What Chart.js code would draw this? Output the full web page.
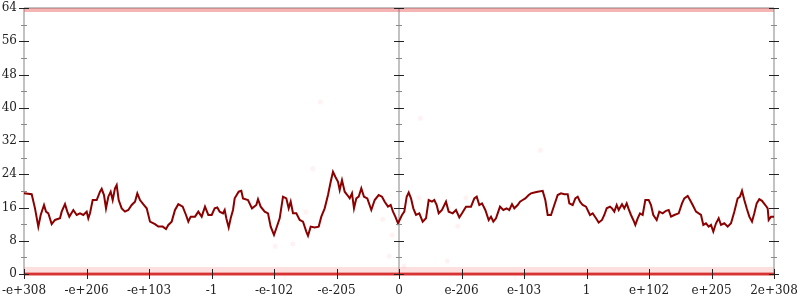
<!DOCTYPE html>
<html>
<head>
<meta charset="utf-8">
<script src="https://cdn.jsdelivr.net/npm/chart.js@4"></script>
<style>
  html, body { margin: 0; padding: 0; background: #fff; }
  #wrap { width: 800px; height: 300px; }
</style>
</head>
<body>
<div id="wrap"><canvas id="chart"></canvas></div>
<script>
// Rótulos do eixo x (posições 0..12)
const xLabels = ['-e+308', '-e+206', '-e+103', '-1', '-e-102', '-e-205', '0',
  'e-206', 'e-103', '1', 'e+102', 'e+205', '2e+308'];
const yMax = 64;
const yStep = 8;
const axisPositions = [0, 6, 12];

// Série principal (linha vermelho-escura)
const lineX = [
  0, 0.123, 0.176, 0.229, 0.267, 0.32, 0.352, 0.389, 0.443, 0.496, 0.576, 0.603, 0.656, 0.693, 0.725,
  0.789, 0.843, 0.896, 0.949, 1.003, 1.029, 1.056, 1.099, 1.163, 1.216, 1.243, 1.28, 1.312, 1.349,
  1.387, 1.419, 1.456, 1.483, 1.515, 1.563, 1.616, 1.669, 1.723, 1.776, 1.813, 1.856, 1.92, 1.963,
  2.016, 2.096, 2.149, 2.219, 2.272, 2.309, 2.363, 2.416, 2.469, 2.539, 2.592, 2.629, 2.667, 2.736,
  2.789, 2.843, 2.896, 2.949, 3.003,
  3.051, 3.093, 3.131, 3.184, 3.211, 3.237, 3.275, 3.307, 3.344, 3.371, 3.435, 3.477, 3.504, 3.584,
  3.648, 3.717, 3.744, 3.787, 3.851, 3.904, 3.947, 4.0, 4.037, 4.091, 4.144, 4.197, 4.235, 4.267,
  4.304, 4.357, 4.411, 4.464, 4.517, 4.544, 4.587, 4.651, 4.715, 4.757, 4.811, 4.864, 4.907, 4.944,
  4.981, 5.024, 5.051, 5.088, 5.131, 5.173, 5.211, 5.248, 5.28, 5.317, 5.355, 5.397, 5.44, 5.493,
  5.557, 5.611, 5.675, 5.728, 5.771, 5.824, 5.867, 5.904, 5.941, 5.984,
  6.048, 6.085, 6.123, 6.155, 6.192, 6.229, 6.272, 6.325, 6.379, 6.432, 6.475, 6.528, 6.565, 6.603,
  6.635, 6.688, 6.752, 6.795, 6.859, 6.912, 6.965, 7.008, 7.072, 7.152, 7.205, 7.243, 7.285, 7.328,
  7.381, 7.435, 7.472, 7.509, 7.552, 7.616, 7.669, 7.723, 7.765, 7.808, 7.845, 7.899, 7.936, 7.979,
  8.021, 8.075, 8.112, 8.165, 8.219, 8.299, 8.341, 8.379, 8.432, 8.485, 8.539, 8.592, 8.645, 8.699,
  8.725, 8.779, 8.821, 8.859, 8.896, 8.939, 8.992,
  9.056, 9.099, 9.152, 9.195, 9.248, 9.285, 9.323, 9.376, 9.408, 9.445, 9.483, 9.515, 9.568, 9.605,
  9.643, 9.675, 9.712, 9.749, 9.781, 9.819, 9.856, 9.899, 9.941, 9.995, 10.032, 10.069, 10.123,
  10.165, 10.219, 10.272, 10.315, 10.352, 10.405, 10.475, 10.528, 10.565, 10.619, 10.656, 10.699,
  10.752, 10.832, 10.869, 10.912, 10.955, 10.992, 11.029, 11.072, 11.115, 11.152, 11.205, 11.259,
  11.312, 11.365, 11.419, 11.456, 11.488, 11.525, 11.563, 11.605, 11.648, 11.685, 11.723, 11.765,
  11.808, 11.861, 11.899, 11.915, 11.952, 12
];
const lineY = [
  19.4, 19.2, 15.8, 11.4, 14.2, 16.6, 15, 14.6, 12, 13, 13.4, 15, 16.8, 15, 13.8,
  15.4, 14.2, 14.6, 14.2, 15, 13.4, 14.6, 17.8, 17.8, 19.8, 20.5, 19, 15.8, 18.6,
  19.8, 17.8, 20.6, 21.4, 17.8, 15.8, 15, 15.4, 16.6, 17.4, 19.4, 17.8, 16.6, 15.8,
  12.6, 12, 11.4, 11.4, 10.8, 11.8, 12.6, 15.4, 16.8, 16.2, 14.2, 12.6, 13.8, 13.8,
  15, 13.8, 16.2, 14.2, 14.2,
  15.8, 16, 15, 14.6, 15.4, 13.4, 11.2, 13.4, 15.4, 18.2, 19.8, 20, 18.2, 17.8,
  15.8, 16.6, 18, 16.2, 15, 14.6, 11.4, 9.4, 11, 13.4, 18.6, 18.2, 15.8, 17.4,
  14.6, 14.6, 13, 12.6, 10.2, 9.2, 11.4, 11.2, 11.4, 13.8, 15.8, 19, 22.2, 24.6,
  23.4, 22.2, 20.2, 22.6, 19.8, 19, 18.2, 19.4, 15.8, 18.2, 18.6, 20.6, 18.6, 18.2,
  15.4, 17.8, 19, 18.6, 17.4, 16.2, 16.6, 15, 13.8, 12.2,
  14.2, 15, 18.6, 19.6, 18.2, 15.8, 14.2, 14.6, 12.6, 13.4, 17.8, 17.4, 17.8, 16.6,
  14.6, 15.4, 17.4, 15, 14.6, 15.4, 13.6, 14.6, 16.2, 16.2, 18.2, 18.6, 16.6, 17,
  15.4, 13, 13.8, 12.6, 13.4, 16.2, 15.4, 15.8, 15.4, 16.8, 15.8, 16.6, 17.4, 17.8,
  18.2, 19, 19.4, 19.6, 19.8, 20, 17.8, 14.2, 14.2, 16.6, 19, 19.4, 19.2, 19.2,
  17, 16.6, 18.2, 18.6, 17.4, 16.6, 16.2,
  14.2, 14.6, 13.4, 12.4, 13, 14.2, 15.8, 16.2, 15.8, 15, 16.6, 15.4, 16.8, 15.8,
  17, 15.6, 14.2, 13, 11.8, 13.4, 14.6, 14.2, 17.8, 17.8, 16.6, 14.2, 13,
  15, 14.6, 15.2, 15.4, 13.8, 14.2, 14.6, 17, 18.2, 18.8, 17.8, 16.6,
  15, 14.2, 11.8, 12.2, 11.4, 11.8, 10.2, 12.2, 13.4, 11.8, 12.2, 11.4,
  12.2, 15, 18.2, 18.6, 20, 17.8, 15.8, 13.8, 12.6, 14.6, 17, 18,
  17.6, 16.6, 15.8, 13, 13.8, 13.8
];

// Faixas de pontos nos limites (0 e 64)
const bandX = [0, 12];
const bottomBandY = [0, 0];
const bottomHazeY = [1.1, 1.1];
const topBandY = [63.5, 63.5];

// Pontos rosados esparsos
const faintX = [4.62, 4.51, 4.02, 4.30, 5.74, 6.32, 7.07, 6.94, 5.89, 5.84, 6.08, 6.77, 4.74, 6.34, 8.26];
const faintY = [25.3, 14.9, 6.7, 7.2, 13.2, 18.3, 18.3, 11.5, 9.4, 4.3, 1.9, 3.1, 41.4, 37.5, 29.8];

const toPoints = (xs, ys) => xs.map((x, i) => ({ x: x, y: ys[i] }));

// Eixos com marcas cruzadas (esquerda, centro, direita)
const crossAxes = {
  id: 'crossAxes',
  beforeDatasetsDraw(chart) {
    const { ctx, scales: { x, y } } = chart;
    const top = y.getPixelForValue(yMax);
    const bottom = y.getPixelForValue(0);
    ctx.save();
    ctx.strokeStyle = '#c2c2c2';
    ctx.lineWidth = 2;
    ctx.beginPath();
    ctx.moveTo(x.getPixelForValue(0), top);
    ctx.lineTo(x.getPixelForValue(12), top);
    ctx.moveTo(x.getPixelForValue(0), bottom);
    ctx.lineTo(x.getPixelForValue(12), bottom);
    axisPositions.forEach(p => {
      const px = x.getPixelForValue(p);
      ctx.moveTo(px, top);
      ctx.lineTo(px, bottom);
    });
    ctx.stroke();
    ctx.restore();
  },
  afterDatasetsDraw(chart) {
    const { ctx, scales: { x, y } } = chart;
    const bottom = y.getPixelForValue(0);
    ctx.save();
    ctx.lineWidth = 1;
    axisPositions.forEach(p => {
      const px = Math.round(x.getPixelForValue(p));
      for (let v = 0; v <= yMax; v += yStep / 2) {
        const py = Math.round(y.getPixelForValue(v)) + 0.5;
        const major = v % yStep === 0;
        const len = major ? 5 : 3;
        ctx.strokeStyle = major ? '#222' : '#8a8a8a';
        ctx.beginPath();
        ctx.moveTo(px - len, py);
        ctx.lineTo(px + len, py);
        ctx.stroke();
      }
    });
    ctx.strokeStyle = '#222';
    for (let i = 0; i < xLabels.length; i++) {
      const px = Math.round(x.getPixelForValue(i)) + 0.5;
      ctx.beginPath();
      ctx.moveTo(px, bottom - 5);
      ctx.lineTo(px, bottom + 5);
      ctx.stroke();
    }
    ctx.restore();
  }
};

const tickFont = { family: 'DejaVu Serif', size: 12 };

new Chart(document.getElementById('chart').getContext('2d'), {
  type: 'line',
  data: {
    datasets: [
      {
        data: toPoints(bandX, topBandY),
        borderColor: 'rgba(232, 70, 70, 0.4)',
        borderWidth: 4,
        pointRadius: 0,
        clip: false
      },
      {
        data: toPoints(bandX, bottomHazeY),
        borderColor: 'rgba(240, 110, 110, 0.22)',
        borderWidth: 5,
        pointRadius: 0,
        clip: false
      },
      {
        data: toPoints(bandX, bottomBandY),
        borderColor: 'rgba(218, 35, 35, 0.9)',
        borderWidth: 3,
        pointRadius: 0,
        clip: false
      },
      {
        type: 'scatter',
        data: toPoints(faintX, faintY),
        backgroundColor: 'rgba(250, 150, 150, 0.12)',
        borderWidth: 0,
        pointRadius: 2.5
      },
      {
        data: toPoints(lineX, lineY),
        borderColor: '#8b0000',
        borderWidth: 2,
        pointRadius: 0,
        tension: 0
      }
    ]
  },
  options: {
    animation: false,
    responsive: true,
    maintainAspectRatio: false,
    layout: { padding: { top: 8, right: 26, left: 0, bottom: 0 } },
    plugins: {
      legend: { display: false },
      tooltip: { enabled: false }
    },
    scales: {
      x: {
        type: 'linear',
        min: 0,
        max: 12,
        grid: { display: false, drawTicks: false },
        border: { display: false },
        ticks: {
          stepSize: 1,
          autoSkip: false,
          maxRotation: 0,
          padding: 10,
          color: '#222',
          font: tickFont,
          callback: v => xLabels[v]
        },
        afterFit: s => {
          s.height = 26;
          s.paddingLeft = 0;
          s.paddingRight = 0;
        }
      },
      y: {
        min: 0,
        max: yMax,
        grid: { display: false, drawTicks: false },
        border: { display: false },
        ticks: {
          stepSize: yStep,
          padding: 7,
          color: '#222',
          font: tickFont
        },
        afterFit: s => {
          s.width = 24;
          s.paddingTop = 0;
          s.paddingBottom = 0;
        }
      }
    }
  },
  plugins: [crossAxes]
});
</script>
</body>
</html>
